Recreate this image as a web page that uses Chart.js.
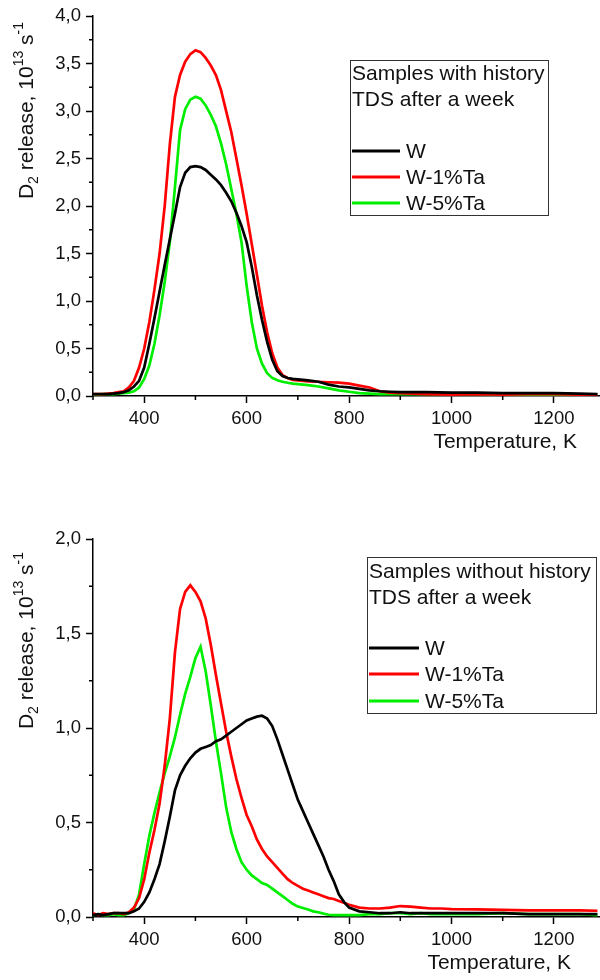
<!DOCTYPE html>
<html><head><meta charset="utf-8">
<script src="https://cdn.jsdelivr.net/npm/chart.js@4.4.0/dist/chart.umd.min.js"></script>
<style>
html,body{margin:0;padding:0;background:#fff;}
#wrap{position:relative;width:600px;height:980px;background:#fff;}
#c1{position:absolute;left:0;top:0;width:600px;height:470px;}
#c2{position:absolute;left:0;top:470px;width:600px;height:510px;}
</style></head><body>
<div id="wrap"><canvas id="c1" width="600" height="470"></canvas><canvas id="c2" width="600" height="510"></canvas></div>
<script>
// ---------- DATA ----------
const seriesLabels = ['W', 'W-1%Ta', 'W-5%Ta'];
const seriesColors = ['#000000', '#ff0000', '#00ee00'];

// Top panel: samples with history
const tempsTop = [300,310,320,330,340,350,360,370,380,390,400,410,420,430,440,450,460,470,480,490,500,510,520,530,540,550,560,570,580,590,600,610,620,630,640,650,660,670,680,690,700,720,740,760,780,800,820,840,860,880,900,950,1000,1050,1100,1150,1200,1250,1285];
const wTop = [0.02,0.02,0.02,0.02,0.025,0.03,0.04,0.06,0.1,0.16,0.3,0.55,0.82,1.1,1.38,1.65,1.92,2.2,2.35,2.41,2.42,2.41,2.38,2.33,2.28,2.22,2.14,2.05,1.93,1.79,1.62,1.36,1.06,0.8,0.57,0.38,0.26,0.21,0.19,0.18,0.175,0.165,0.15,0.12,0.1,0.09,0.075,0.06,0.05,0.045,0.04,0.04,0.035,0.035,0.03,0.03,0.03,0.025,0.02];
const ta1Top = [0.02,0.02,0.02,0.025,0.03,0.04,0.05,0.09,0.16,0.3,0.5,0.78,1.12,1.5,2.0,2.65,3.15,3.38,3.52,3.6,3.64,3.62,3.56,3.48,3.38,3.22,3.0,2.78,2.5,2.22,1.92,1.6,1.28,0.95,0.67,0.45,0.3,0.22,0.19,0.17,0.165,0.155,0.15,0.145,0.14,0.13,0.11,0.09,0.05,0.035,0.03,0.02,0.015,0.02,0.015,0.02,0.02,0.015,0.015];
const ta5Top = [0.01,0.015,0.02,0.02,0.02,0.025,0.03,0.035,0.05,0.09,0.18,0.32,0.55,0.85,1.2,1.62,2.2,2.8,3.02,3.12,3.15,3.13,3.06,2.96,2.84,2.66,2.44,2.18,1.92,1.62,1.16,0.78,0.5,0.34,0.24,0.19,0.165,0.15,0.14,0.13,0.125,0.115,0.1,0.08,0.06,0.045,0.03,0.025,0.02,0.02,0.02,0.02,0.02,0.02,0.015,0.015,0.015,0.01,0.01];

// Bottom panel: samples without history
const tempsBottom = [300,310,320,330,340,350,360,370,380,390,400,410,420,430,440,450,460,470,480,490,500,510,520,530,540,550,560,570,580,590,600,610,620,630,640,650,660,670,680,690,700,710,720,730,740,750,760,770,780,790,800,820,840,860,880,900,920,940,960,980,1000,1050,1100,1150,1200,1250,1285];
const wBottom = [0.01,0.015,0.01,0.015,0.02,0.02,0.02,0.02,0.03,0.045,0.08,0.13,0.2,0.28,0.4,0.53,0.67,0.75,0.8,0.84,0.87,0.89,0.9,0.91,0.93,0.94,0.96,0.98,1.0,1.02,1.04,1.05,1.06,1.065,1.05,1.01,0.94,0.86,0.78,0.7,0.62,0.56,0.5,0.44,0.38,0.32,0.25,0.19,0.12,0.08,0.05,0.03,0.025,0.02,0.02,0.025,0.02,0.02,0.02,0.02,0.02,0.02,0.02,0.015,0.015,0.015,0.015];
const ta1Bottom = [0.02,0.01,0.02,0.015,0.02,0.02,0.015,0.025,0.05,0.1,0.2,0.34,0.46,0.6,0.8,1.05,1.4,1.63,1.72,1.755,1.72,1.67,1.58,1.44,1.28,1.13,0.98,0.85,0.73,0.63,0.54,0.48,0.41,0.36,0.32,0.29,0.26,0.23,0.2,0.18,0.165,0.15,0.14,0.13,0.12,0.11,0.1,0.095,0.085,0.075,0.065,0.05,0.045,0.045,0.05,0.058,0.055,0.05,0.045,0.045,0.042,0.04,0.038,0.035,0.035,0.035,0.033];
const ta5Bottom = [0.01,0.015,0.01,0.01,0.015,0.01,0.01,0.02,0.04,0.12,0.28,0.43,0.55,0.66,0.76,0.85,0.95,1.07,1.18,1.27,1.37,1.43,1.3,1.12,0.93,0.76,0.58,0.45,0.36,0.29,0.25,0.22,0.2,0.18,0.17,0.15,0.13,0.11,0.09,0.07,0.055,0.048,0.04,0.03,0.025,0.018,0.012,0.01,0.01,0.01,0.01,0.01,0.015,0.015,0.02,0.02,0.015,0.02,0.015,0.015,0.015,0.015,0.02,0.015,0.015,0.015,0.01];

// Ticks
const xMajorTicks = [400,600,800,1000,1200];
const xMinorTicks = [300,500,700,900,1100];
const yMajorTicksTop = [0,0.5,1,1.5,2,2.5,3,3.5,4];
const yMinorTicksTop = [0.25,0.75,1.25,1.75,2.25,2.75,3.25,3.75];
const yMajorTicksBottom = [0,0.5,1,1.5,2];
const yMinorTicksBottom = [0.25,0.75,1.25,1.75];

const legendTitleTop = ['Samples with history', 'TDS after a week'];
const legendTitleBottom = ['Samples without history', 'TDS after a week'];
const xTitle = 'Temperature, K';

// ---------- RENDER ----------
const FONT = "'Liberation Sans', Arial, sans-serif";

const extrasPlugin = {
  id: 'extras',
  afterDraw(chart) {
    const o = chart.options.plugins.extras;
    const ctx = chart.ctx;
    const ca = chart.chartArea;
    const xs = chart.scales.x, ys = chart.scales.y;
    ctx.save();
    // minor ticks
    ctx.strokeStyle = '#000'; ctx.lineWidth = 1.5;
    ctx.beginPath();
    o.xMinor.forEach(v => { const p = xs.getPixelForValue(v); ctx.moveTo(p, ca.bottom); ctx.lineTo(p, ca.bottom + 4); });
    o.yMinor.forEach(v => { const p = ys.getPixelForValue(v); ctx.moveTo(ca.left, p); ctx.lineTo(ca.left - 4, p); });
    ctx.stroke();
    // x title
    ctx.fillStyle = '#111';
    ctx.font = '21px ' + FONT;
    ctx.textAlign = 'right'; ctx.textBaseline = 'alphabetic';
    ctx.fillText(xTitle, o.xTitleRight, ca.bottom + 52);
    // y title (rotated, with sub/superscripts)
    const parts = [['D',0],['2',1],[' release, 10',0],['13',2],[' s',0],['-1',2]];
    const big = '21px ' + FONT, small = '14px ' + FONT;
    let total = 0;
    parts.forEach(p => { ctx.font = p[1] ? small : big; total += ctx.measureText(p[0]).width; });
    ctx.translate(33, o.yTitleTop);
    ctx.rotate(-Math.PI / 2);
    ctx.textAlign = 'left';
    let cx = -total;
    parts.forEach(p => {
      ctx.font = p[1] ? small : big;
      const dy = p[1] === 1 ? 5 : (p[1] === 2 ? -10.5 : 0);
      ctx.fillText(p[0], cx, dy);
      cx += ctx.measureText(p[0]).width;
    });
    ctx.setTransform(1, 0, 0, 1, 0, 0);
    // legend box
    const L = o.legend;
    ctx.strokeStyle = '#333'; ctx.lineWidth = 1;
    ctx.strokeRect(L.x + 0.5, L.y + 0.5, L.w, L.h);
    ctx.font = '21px ' + FONT;
    ctx.textAlign = 'left'; ctx.textBaseline = 'alphabetic';
    ctx.fillStyle = '#111';
    L.title.forEach((t, i) => ctx.fillText(t, L.x + 2, L.titleBase[i]));
    ctx.textBaseline = 'middle';
    chart.data.datasets.forEach((ds, i) => {
      const yy = L.itemY[i];
      ctx.strokeStyle = ds.borderColor; ctx.lineWidth = 3;
      ctx.beginPath(); ctx.moveTo(L.x + 2, yy); ctx.lineTo(L.lineEnd, yy); ctx.stroke();
      ctx.fillStyle = '#111';
      ctx.fillText(ds.label, L.lineEnd + 6, yy + 1);
    });
    ctx.restore();
  }
};

function makeChart(canvasId, temps, values, yMax, yMajor, yMinor, padTop, xHeight, extras) {
  const datasets = values.map((vals, i) => ({
    label: seriesLabels[i],
    data: temps.map((t, k) => ({ x: t, y: vals[k] })),
    borderColor: seriesColors[i],
    borderWidth: 2.7,
    pointRadius: 0,
    tension: 0,
    fill: false
  }));
  return new Chart(document.getElementById(canvasId), {
    type: 'line',
    data: { datasets },
    plugins: [extrasPlugin],
    options: {
      responsive: false,
      animation: false,
      events: [],
      layout: { padding: { top: padTop, left: 0, right: 0, bottom: 0 } },
      plugins: { legend: { display: false }, tooltip: { enabled: false }, extras },
      scales: {
        x: {
          type: 'linear', min: 300, max: 1290,
          afterBuildTicks: s => { s.ticks = xMajorTicks.map(v => ({ value: v })); },
          afterFit: s => { s.height = xHeight; },
          ticks: { font: { family: FONT, size: 18.5 }, color: '#111', padding: 4.5, maxRotation: 0, autoSkip: false, callback: v => String(v) },
          grid: { drawOnChartArea: false, drawTicks: true, tickLength: 7, tickWidth: 1.5, tickColor: '#000' },
          border: { display: true, color: '#000', width: 1.5 }
        },
        y: {
          type: 'linear', min: 0, max: yMax,
          afterBuildTicks: s => { s.ticks = yMajor.map(v => ({ value: v })); },
          afterFit: s => { s.width = 93; },
          ticks: { font: { family: FONT, size: 18.5 }, color: '#111', padding: 5, autoSkip: false, callback: v => v.toFixed(1).replace('.', ',') },
          grid: { drawOnChartArea: false, drawTicks: true, tickLength: 7, tickWidth: 1.5, tickColor: '#000' },
          border: { display: true, color: '#000', width: 1.5 }
        }
      }
    }
  });
}

makeChart('c1', tempsTop, [wTop, ta1Top, ta5Top], 4, yMajorTicksTop, yMinorTicksTop, 16, 74, {
  xMinor: xMinorTicks, yMinor: yMinorTicksTop, xTitleRight: 577, yTitleTop: 22,
  legend: { x: 350, y: 60, w: 198, h: 155, title: legendTitleTop, titleBase: [80, 106], itemY: [151, 177, 203], lineEnd: 400 }
});
makeChart('c2', tempsBottom, [wBottom, ta1Bottom, ta5Bottom], 2, yMajorTicksBottom, yMinorTicksBottom, 69, 63, {
  xMinor: xMinorTicks, yMinor: yMinorTicksBottom, xTitleRight: 571, yTitleTop: 82,
  legend: { x: 367, y: 87, w: 229, h: 156, title: legendTitleBottom, titleBase: [108, 134], itemY: [178, 204, 231], lineEnd: 419 }
});
</script>
</body></html>
